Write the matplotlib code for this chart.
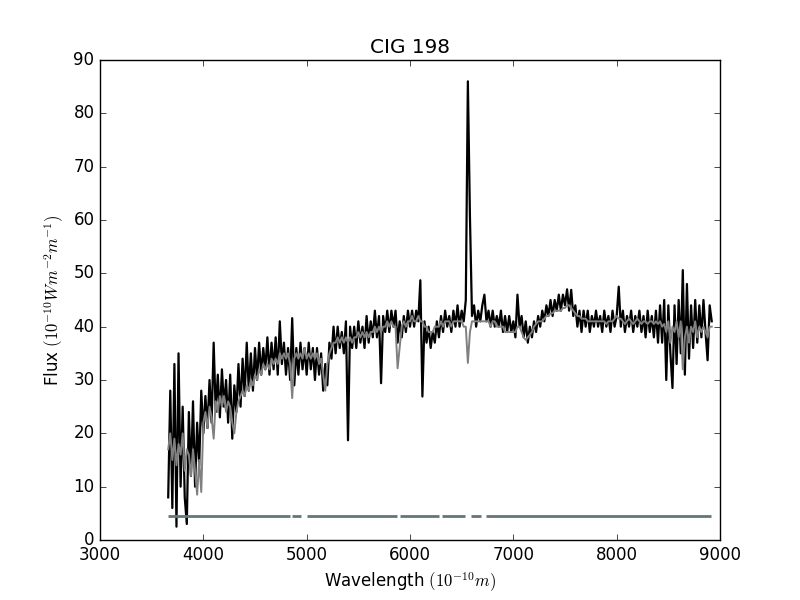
import numpy as np
import matplotlib
matplotlib.use('Agg')
from matplotlib import pyplot as plt

plt.style.use('classic')

# wavelength grid of the sampled spectrum (Angstrom)
wave = np.arange(3660, 8921, 20)

flux_obs = [
    8, 28, 6, 33, 2.5, 35, 10, 25, 8, 3,
    24, 12, 26, 10, 22, 14, 28, 20, 27, 21,
    30, 22, 37, 24, 31, 23, 32, 25, 30, 22,
    31, 19, 29, 24, 33, 25, 34, 27, 37, 28,
    35, 28, 36, 30, 37, 31, 36, 32, 38, 31,
    37, 32, 38, 31, 41, 33, 37, 31, 36, 30,
    41.6, 29, 36, 31, 37, 32, 36, 31, 37, 32,
    36, 30, 36, 31, 35, 28, 33, 29, 37, 34,
    40, 35, 40, 36, 39, 35, 41, 18.7, 40, 36,
    40, 36, 41, 37, 40, 36, 42, 37, 41, 38,
    43, 38, 42, 29.4, 42, 39, 43, 39, 43, 40,
    43, 37, 41, 38, 42, 39, 43, 40, 43, 40,
    43, 41, 48.7, 26.9, 41, 37, 40, 36, 39, 37,
    41, 38, 42, 39, 43, 40, 42, 39, 43, 40,
    44, 40, 43, 41, 45, 86, 60.7, 42, 44, 40,
    43, 41, 44, 46, 41, 43, 40, 43, 40, 42,
    40, 43, 39, 42, 39, 42, 39, 41, 38, 46,
    40, 42, 38, 41, 37, 40, 38, 41, 39, 42,
    40, 43, 41, 44, 42, 45, 42, 45, 43, 46,
    43, 46, 44, 47, 43, 46.9, 42, 44, 40, 43,
    39, 43, 40, 43, 39, 42, 40, 43, 40, 42,
    39, 43, 40, 42, 39, 43, 40, 42, 47.5, 40,
    43, 39, 42, 40, 43, 39, 42, 40, 43, 39,
    42, 38, 43, 39, 42, 38, 43, 37, 44, 37,
    45, 30, 44, 35, 28.5, 44, 33, 45, 35, 50.6,
    31, 48, 34, 44, 36, 45, 37, 44, 38, 45,
    39, 33.7, 44, 41,
]

# fitted model spectrum
flux_fit = [
    17, 20, 15, 19, 14, 18, 16, 20, 13, 17,
    16, 12, 17, 13, 8.5, 15, 9, 22, 24, 21,
    25, 23, 19, 26, 24, 27, 25, 27, 24, 26,
    25, 22, 20, 24, 26, 27, 28, 27, 29, 28,
    30, 29, 31, 30, 32, 31, 33, 32, 33, 32,
    34, 33, 34, 33, 35, 34, 35, 34, 35, 33,
    26.6, 34, 35, 34, 35, 34, 36, 34, 35, 34,
    35, 34, 35, 33, 34, 31, 28, 33, 35, 36,
    37, 37, 38, 37, 38, 37, 38, 37, 38, 37,
    38, 38, 39, 38, 39, 38, 39, 38, 39, 39,
    40, 39, 40, 39, 40, 40, 41, 40, 41, 40,
    40, 32.2, 36, 40, 41, 40, 41, 41, 42, 41,
    41, 42, 41, 41, 40, 40, 39, 39, 39, 40,
    40, 40, 41, 40, 41, 41, 41, 40, 41, 41,
    41, 41, 41, 40, 40, 33.2, 39, 41, 41, 41,
    41, 41, 41, 41, 41, 41, 40, 41, 41, 40,
    40, 40, 40, 39, 39, 39, 39, 39, 39, 40,
    40, 39, 38, 37.5, 38, 38.5, 39, 40, 40.5, 41,
    41, 41, 41.5, 42, 42, 42.5, 42.5, 43, 43, 43,
    43, 43.5, 43.5, 44, 44, 43.5, 43, 42.5, 42, 42,
    41.5, 41.5, 41.5, 41, 41, 41, 41, 41, 41, 41,
    41, 41, 40.5, 41, 41, 41, 41.5, 42, 41.5, 41.5,
    41, 40.5, 41, 41.5, 41, 40.5, 41, 41.5, 41, 40.5,
    41, 41, 40.5, 41, 41, 40.5, 41, 40.5, 41, 40,
    40.5, 39, 41, 37, 40, 39, 41, 38, 41, 32,
    38, 40, 37, 40, 39, 41, 38, 40, 39, 40,
    39, 38, 40, 40,
]

# good-pixel mask line: segments between masked regions
mask_level = 4.5
mask_start = [3658, 4858, 5008, 5903, 6310, 6590, 6735]
mask_end = [4839, 4945, 5874, 6277, 6528, 6687, 8913]

fig = plt.figure(figsize=(8, 6), dpi=100)
ax = fig.add_subplot(111)
ax.plot(wave, flux_obs, color='black', linewidth=1.6)
ax.plot(wave, flux_fit, color='gray', linewidth=1.4)
ax.hlines([mask_level] * len(mask_start), mask_start, mask_end,
          color='#65767b', linewidth=2)

ax.set_xlim(3000, 9000)
ax.set_ylim(0, 90)
ax.set_title('CIG 198')
ax.set_xlabel(r'Wavelength $(10^{-10} m)$')
ax.set_ylabel(r'Flux $(10^{-10} W m^{-2} m^{-1})$')

fig.savefig('out.png', dpi=100, facecolor='white')
